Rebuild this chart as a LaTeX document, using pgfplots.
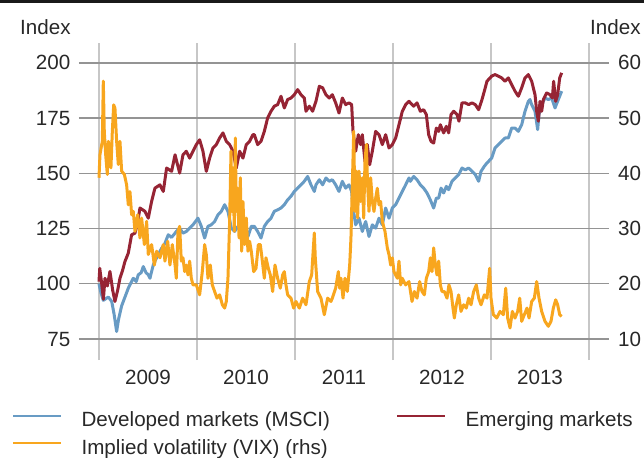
\documentclass[border=0pt]{standalone}
\usepackage{fontspec}
\setmainfont{Liberation Sans}
\usepackage{pgfplots}
\pgfplotsset{compat=1.18}

\definecolor{dmblue}{RGB}{104,155,196}
\definecolor{emred}{RGB}{150,36,52}
\definecolor{vixorange}{RGB}{248,166,30}
\definecolor{txt}{RGB}{40,40,40}

% developed markets (MSCI), index
\pgfplotstableread{
x y
2009.000 100.0
2009.020 96.0
2009.044 92.5
2009.095 94.0
2009.130 92.0
2009.155 86.0
2009.180 78.4
2009.200 84.0
2009.231 90.0
2009.265 94.0
2009.299 98.0
2009.350 102.5
2009.380 101.0
2009.401 104.1
2009.430 105.0
2009.452 107.8
2009.480 105.0
2009.503 104.1
2009.520 102.5
2009.554 108.6
2009.590 112.0
2009.639 116.1
2009.670 118.0
2009.707 122.2
2009.740 121.0
2009.776 122.9
2009.789 123.7
2009.823 125.2
2009.857 122.9
2009.891 123.7
2009.925 125.2
2009.959 126.7
2010.010 129.7
2010.044 126.0
2010.078 120.7
2010.112 126.0
2010.146 126.7
2010.180 128.2
2010.214 131.2
2010.248 132.8
2010.282 135.8
2010.316 132.8
2010.350 125.2
2010.384 123.7
2010.418 126.0
2010.452 123.7
2010.486 124.4
2010.520 121.4
2010.554 126.0
2010.585 126.0
2010.619 123.7
2010.653 120.7
2010.687 126.0
2010.721 128.2
2010.755 129.7
2010.789 132.8
2010.823 133.5
2010.857 134.3
2010.891 135.8
2010.925 138.0
2010.959 139.6
2010.993 141.8
2011.027 143.3
2011.061 144.8
2011.095 146.4
2011.129 148.6
2011.163 144.8
2011.197 141.8
2011.214 144.8
2011.248 147.1
2011.282 144.8
2011.316 147.9
2011.350 146.4
2011.381 147.1
2011.415 144.8
2011.449 141.8
2011.483 146.4
2011.517 143.3
2011.551 144.8
2011.578 141.8
2011.592 134.3
2011.619 126.7
2011.653 129.7
2011.687 123.7
2011.721 128.2
2011.755 121.4
2011.789 126.7
2011.823 125.2
2011.857 129.7
2011.891 126.7
2011.925 134.3
2011.959 129.7
2011.993 134.3
2012.027 135.8
2012.061 138.8
2012.095 141.8
2012.129 144.8
2012.163 147.9
2012.177 146.4
2012.211 148.6
2012.245 147.1
2012.279 144.8
2012.313 143.3
2012.347 141.1
2012.381 138.0
2012.415 134.3
2012.442 138.8
2012.466 138.8
2012.490 143.3
2012.517 141.1
2012.544 144.1
2012.568 142.6
2012.602 146.4
2012.636 147.9
2012.670 149.4
2012.704 152.4
2012.738 151.6
2012.772 152.4
2012.806 150.9
2012.840 149.4
2012.874 146.4
2012.898 150.9
2012.932 153.2
2012.959 154.7
2013.007 156.9
2013.041 161.5
2013.075 163.0
2013.109 164.5
2013.143 166.0
2013.177 166.0
2013.211 170.5
2013.245 170.5
2013.279 169.0
2013.313 172.0
2013.347 178.1
2013.381 182.6
2013.398 183.4
2013.415 181.1
2013.449 178.1
2013.476 169.8
2013.490 176.6
2013.517 181.1
2013.551 184.1
2013.585 183.4
2013.619 184.1
2013.653 179.6
2013.687 183.4
2013.721 187.2
}\devtable

% emerging markets, index
\pgfplotstableread{
x y
2009.000 101.0
2009.008 107.0
2009.027 100.3
2009.045 93.0
2009.061 102.5
2009.085 99.0
2009.112 105.6
2009.140 97.0
2009.163 92.0
2009.190 97.0
2009.214 102.5
2009.240 106.0
2009.265 110.1
2009.299 113.9
2009.333 122.2
2009.367 122.9
2009.395 128.0
2009.418 134.3
2009.469 132.8
2009.503 129.7
2009.537 137.3
2009.571 143.3
2009.622 144.8
2009.656 141.8
2009.690 152.4
2009.741 150.9
2009.776 158.4
2009.823 150.1
2009.857 158.4
2009.891 160.0
2009.925 156.9
2009.959 160.0
2009.993 163.0
2010.027 165.2
2010.061 160.0
2010.095 150.9
2010.129 156.9
2010.163 161.5
2010.197 163.0
2010.231 166.0
2010.265 168.3
2010.299 164.5
2010.333 163.0
2010.367 160.0
2010.401 152.4
2010.435 160.0
2010.469 156.9
2010.503 163.0
2010.537 164.5
2010.571 167.5
2010.585 167.5
2010.619 163.0
2010.653 164.5
2010.687 169.0
2010.721 175.1
2010.755 178.1
2010.789 180.4
2010.823 181.1
2010.857 184.9
2010.891 179.6
2010.925 183.4
2010.959 184.1
2010.993 185.6
2011.027 187.9
2011.061 185.6
2011.095 184.1
2011.112 178.1
2011.146 180.4
2011.180 178.1
2011.214 182.6
2011.248 189.4
2011.282 188.7
2011.316 185.6
2011.350 184.1
2011.381 185.6
2011.415 181.9
2011.449 177.3
2011.483 184.1
2011.517 181.1
2011.551 181.9
2011.578 181.1
2011.592 169.0
2011.619 160.0
2011.646 167.5
2011.670 163.0
2011.687 167.5
2011.714 155.4
2011.738 163.0
2011.762 153.9
2011.789 160.0
2011.823 169.0
2011.857 167.5
2011.891 163.0
2011.925 167.5
2011.959 161.5
2011.993 163.0
2012.027 166.0
2012.061 172.0
2012.095 178.1
2012.129 181.1
2012.163 182.6
2012.211 180.4
2012.245 181.9
2012.279 178.1
2012.313 178.8
2012.340 176.6
2012.364 167.5
2012.388 164.5
2012.415 163.7
2012.442 170.5
2012.466 169.0
2012.483 172.0
2012.517 168.3
2012.544 171.3
2012.568 168.3
2012.592 176.6
2012.619 178.1
2012.653 176.6
2012.673 173.6
2012.704 181.9
2012.738 181.9
2012.772 181.1
2012.806 181.9
2012.840 181.1
2012.874 178.8
2012.908 183.4
2012.932 187.2
2012.959 191.7
2013.007 194.0
2013.041 194.7
2013.075 194.0
2013.109 193.2
2013.143 191.7
2013.177 193.2
2013.211 190.2
2013.245 187.2
2013.279 184.9
2013.313 188.7
2013.347 193.2
2013.381 194.7
2013.415 191.7
2013.449 185.6
2013.466 178.1
2013.483 173.6
2013.500 182.6
2013.517 178.1
2013.534 183.4
2013.568 186.4
2013.602 185.6
2013.626 184.1
2013.639 191.7
2013.660 182.6
2013.680 185.6
2013.701 193.2
2013.721 195.5
}\emtable

% implied volatility (VIX), rhs
\pgfplotstableread{
x y
2009.000 39.2
2009.010 43.4
2009.034 45.8
2009.044 56.7
2009.054 47.6
2009.068 43.4
2009.085 39.8
2009.095 45.8
2009.112 44.0
2009.122 41.0
2009.136 47.6
2009.150 52.4
2009.163 51.8
2009.180 45.8
2009.197 41.6
2009.214 45.8
2009.231 40.4
2009.259 39.8
2009.282 37.9
2009.299 34.3
2009.316 36.7
2009.333 32.5
2009.350 33.1
2009.367 29.5
2009.395 32.5
2009.418 28.3
2009.435 31.9
2009.463 27.1
2009.486 31.3
2009.503 25.3
2009.537 27.1
2009.565 23.4
2009.588 25.9
2009.622 24.7
2009.656 27.1
2009.673 24.1
2009.701 27.7
2009.724 23.4
2009.748 27.1
2009.776 23.4
2009.789 21.0
2009.806 29.5
2009.823 30.4
2009.840 24.1
2009.857 24.7
2009.874 22.2
2009.891 23.4
2009.908 21.6
2009.925 24.1
2009.942 21.0
2009.959 19.8
2009.993 19.8
2010.027 18.0
2010.054 22.2
2010.078 27.1
2010.095 25.3
2010.112 21.0
2010.136 23.4
2010.156 19.8
2010.180 18.6
2010.204 17.4
2010.231 18.0
2010.259 16.2
2010.282 15.6
2010.299 16.8
2010.316 21.0
2010.333 31.3
2010.347 44.0
2010.357 33.1
2010.367 41.0
2010.381 29.5
2010.391 46.4
2010.401 33.1
2010.415 37.3
2010.429 28.3
2010.442 39.2
2010.456 25.9
2010.469 34.9
2010.486 27.1
2010.503 31.9
2010.520 25.9
2010.537 27.7
2010.554 25.9
2010.578 22.2
2010.602 22.8
2010.626 27.1
2010.646 27.1
2010.663 24.7
2010.687 21.0
2010.704 24.7
2010.728 22.8
2010.748 21.6
2010.772 18.6
2010.796 23.4
2010.823 21.0
2010.850 19.2
2010.874 21.6
2010.891 22.2
2010.908 19.8
2010.925 18.0
2010.959 17.4
2010.986 15.6
2011.010 16.8
2011.044 15.6
2011.078 17.4
2011.112 16.2
2011.146 20.4
2011.170 21.6
2011.197 29.2
2011.207 24.7
2011.231 18.6
2011.265 17.4
2011.299 14.4
2011.333 17.4
2011.367 16.8
2011.381 17.4
2011.415 19.2
2011.442 22.2
2011.456 19.2
2011.469 21.0
2011.490 17.4
2011.510 21.0
2011.534 18.6
2011.558 23.4
2011.571 28.3
2011.585 37.9
2011.599 47.6
2011.612 33.1
2011.626 40.4
2011.639 31.9
2011.653 40.4
2011.670 34.9
2011.687 39.2
2011.701 31.9
2011.714 42.2
2011.728 45.2
2011.741 37.9
2011.755 33.1
2011.772 39.2
2011.789 34.9
2011.806 33.1
2011.823 35.5
2011.840 37.3
2011.857 34.3
2011.874 34.9
2011.891 31.3
2011.918 29.5
2011.942 26.5
2011.959 25.3
2011.976 23.4
2011.993 24.7
2012.010 22.2
2012.027 21.6
2012.044 21.0
2012.061 24.1
2012.078 19.8
2012.095 21.0
2012.129 19.8
2012.163 20.4
2012.194 16.8
2012.218 18.6
2012.245 17.4
2012.272 20.4
2012.296 18.6
2012.320 18.0
2012.340 21.0
2012.364 22.2
2012.381 24.7
2012.398 22.2
2012.415 26.5
2012.432 23.4
2012.449 21.6
2012.466 24.1
2012.483 19.8
2012.500 18.6
2012.524 18.6
2012.551 17.4
2012.571 19.8
2012.592 18.6
2012.612 15.6
2012.626 13.8
2012.646 16.2
2012.670 18.0
2012.694 15.0
2012.721 16.2
2012.748 15.6
2012.772 17.4
2012.796 16.2
2012.823 18.6
2012.850 19.8
2012.874 17.4
2012.898 16.2
2012.932 18.0
2012.959 17.4
2012.986 22.8
2013.000 17.4
2013.024 14.4
2013.058 13.8
2013.092 15.0
2013.126 14.4
2013.150 19.2
2013.170 13.8
2013.194 12.0
2013.218 15.0
2013.245 13.8
2013.272 15.0
2013.293 17.4
2013.313 13.2
2013.340 14.4
2013.367 15.6
2013.388 13.8
2013.415 16.8
2013.442 17.4
2013.466 20.4
2013.490 17.4
2013.517 15.0
2013.551 13.2
2013.585 12.3
2013.612 13.2
2013.636 15.6
2013.660 17.1
2013.680 16.2
2013.701 14.4
2013.721 14.1
}\vixtable

\pgfplotsset{
  basestyle/.style={
    scale only axis, width=265pt, height=158.5pt,
    xmin=2008.796, xmax=2014.204,
    axis line style={draw=none}, tick style={draw=none},
    /pgf/number format/assume math mode=true,
    tick label style={font=\fontsize{10.3}{12}\selectfont, text=txt},
  },
  series/.style={line width=1.5pt, line join=round},
}

\begin{document}
\begin{tikzpicture}[font=\fontsize{10.3}{12}\selectfont]
\begin{axis}[basestyle,
  ymin=65.5, ymax=209, ytick={75,100,...,200},
  ymajorgrids, y grid style={black!42, line width=0.65pt},
  xtick={2009,...,2014}, xticklabels={},
  xmajorgrids, x grid style={black!22, line width=0.9pt},
  extra x ticks={2009.5,2010.5,2011.5,2012.5,2013.5},
  extra x tick labels={2009,2010,2011,2012,2013},
  extra x tick style={grid=none},
  xticklabel style={yshift=-1.7pt},
  yticklabel style={xshift=-0.8pt},
  legend columns=2,
  legend cell align=left,
  legend image code/.code={\draw[#1, line width=1pt] (0pt,3.2pt) -- (24pt,3.2pt);},
  legend style={draw=none, fill=none, inner sep=0pt, outer sep=0pt,
    at={(-0.1264,-0.1640)}, anchor=north west,
    font=\fontsize{10.3}{12}\selectfont, text=txt,
    row sep=3.8pt,
    nodes={inner sep=0pt, text height=7.5pt, text depth=2.5pt},
    /tikz/every odd column/.append style={column sep=9.8pt},
    /tikz/every even column/.append style={column sep=33pt}},
]
\addplot[series, dmblue] table {\devtable};
\addlegendentry{Developed markets (MSCI)}
\addplot[series, emred] table {\emtable};
\addlegendentry{Emerging markets}
\addlegendimage{series, vixorange}
\addlegendentry{Implied volatility (VIX) (rhs)}
\end{axis}
\begin{axis}[basestyle,
  ymin=6.2, ymax=63.6, ytick={10,20,...,60},
  axis y line*=right, axis x line=none,
  yticklabel style={xshift=1pt},
]
\addplot[series, vixorange] table {\vixtable};
\end{axis}
\node[anchor=base east, text=txt, inner sep=0pt] at (-4pt,163pt) {Index};
\node[anchor=base east, text=txt, inner sep=0pt] at (281pt,163pt) {Index};
\fill[black!90] (-39.5pt,178.5pt) rectangle (282.5pt,180pt);
\pgfresetboundingbox
\path[use as bounding box] (-39.5pt,-48.5pt) rectangle (282.5pt,180pt);
\end{tikzpicture}
\end{document}
